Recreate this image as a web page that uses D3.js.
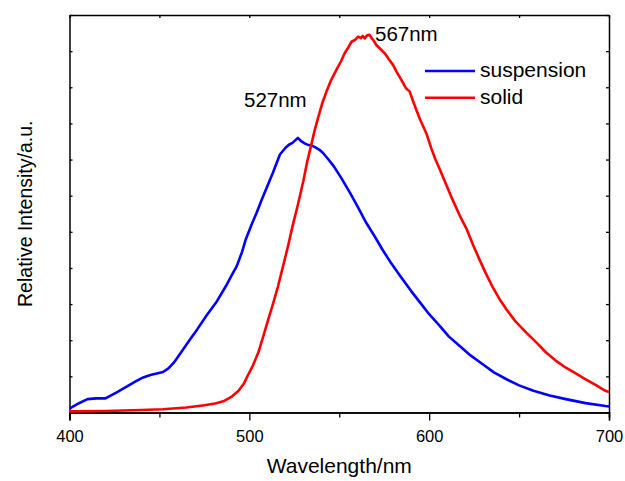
<!DOCTYPE html>
<html><head><meta charset="utf-8">
<script src="https://cdn.jsdelivr.net/npm/d3@7"></script>
<style>
html,body{margin:0;padding:0;background:#fff;}
text{font-family:"Liberation Sans",Arial,sans-serif;fill:#000;}
</style></head>
<body><svg id="chart" width="625" height="481"></svg>
<script>
const xTickLabels = [400, 500, 600, 700];
const xMinorTicks = [450, 550, 650];
const yTicks = [0,1,2,3,4,5,6,7,8,9,10,11];
const seriesNames = ["suspension", "solid"];
const seriesColors = ["#0000ff", "#ff0000"];
const peakLabels = ["527nm", "567nm"];

const suspensionWavelength = [400,405,410,415,420,426,432,437,441,445,452,455,458,462,467,471,476,482,487,490,493,496,498,501,504,507,510,513,517,520,522,524,527,529,531,533,535,537,539,541,544,547,551,556,560,565,570,574,579,584,590,595,600,606,611,617,623,630,636,643,650,658,667,676,687,698,700];
const suspensionIntensity = [0.11,0.25,0.37,0.39,0.39,0.55,0.72,0.87,0.97,1.04,1.12,1.22,1.38,1.66,2.02,2.30,2.67,3.08,3.50,3.78,4.05,4.45,4.79,5.17,5.52,5.90,6.26,6.62,7.14,7.32,7.41,7.46,7.60,7.50,7.44,7.40,7.38,7.33,7.27,7.18,7.00,6.81,6.50,6.08,5.72,5.25,4.85,4.51,4.12,3.77,3.36,3.04,2.72,2.39,2.10,1.84,1.58,1.33,1.11,0.92,0.75,0.60,0.47,0.37,0.26,0.18,0.17];

const solidWavelength = [400,420,440,452,465,475,481,486,490,494,497,499,502,505,508,510,513,516,519,521.5,524,527,530,532,534.5,536.4,538.2,540.5,542.9,545.5,548.4,551,553,555,556.8,558.5,560.5,562,563,564.2,565.5,566.9,568,569,570.6,572.5,575.3,577.5,579.9,582,584.6,587,589.2,591,592.9,595,598.4,601.2,603.5,606,609.5,613,617,621,624.5,628,631.5,635,639,643,648,654,660,665,670,676,681.5,687,693,698,700];
const solidIntensity = [0.03,0.04,0.07,0.09,0.14,0.20,0.25,0.32,0.43,0.60,0.80,1.01,1.30,1.66,2.15,2.49,2.98,3.50,4.10,4.60,5.15,5.75,6.40,6.90,7.42,7.82,8.15,8.55,8.88,9.20,9.48,9.72,9.94,10.10,10.26,10.30,10.40,10.36,10.42,10.35,10.44,10.45,10.36,10.30,10.17,10.08,9.94,9.78,9.62,9.42,9.20,8.98,8.88,8.62,8.37,8.10,7.73,7.31,7.00,6.72,6.30,5.89,5.45,5.06,4.63,4.23,3.85,3.50,3.15,2.85,2.52,2.21,1.92,1.66,1.45,1.24,1.08,0.92,0.75,0.60,0.57];

const svg = d3.select("#chart");
const L = 69.5, R = 609, T = 15, B = 412.5;
const x = d3.scaleLinear().domain([400, 700]).range([L, R]);
const y = d3.scaleLinear().domain([0, 11]).range([B, T]);

const axisStyle = g => { g.selectAll("path").attr("stroke","#000").attr("stroke-width",1.5); g.selectAll("line").attr("stroke","#000").attr("stroke-width",1.3); };

svg.append("g").attr("transform",`translate(0,${B})`)
  .call(d3.axisBottom(x).tickValues(xTickLabels).tickSize(8).tickPadding(9.5).tickFormat(d3.format("d")))
  .call(axisStyle)
  .call(g => g.selectAll("text").style("font-size","16.5px").style("font-family",'"Liberation Sans",Arial,sans-serif'));
svg.append("g").attr("transform",`translate(0,${B})`)
  .call(d3.axisBottom(x).tickValues(xMinorTicks).tickSize(5).tickFormat(""))
  .call(axisStyle);
svg.append("g").attr("transform",`translate(0,${T})`)
  .call(d3.axisTop(x).tickValues(xTickLabels.concat(xMinorTicks)).tickSizeInner(-3).tickSizeOuter(0).tickFormat(""))
  .call(axisStyle);
svg.append("g").attr("transform",`translate(${L},0)`)
  .call(d3.axisLeft(y).tickValues(yTicks).tickSizeInner(-3).tickSizeOuter(0).tickFormat(""))
  .call(axisStyle);
svg.append("g").attr("transform",`translate(${R},0)`)
  .call(d3.axisRight(y).tickValues(yTicks).tickSizeInner(-3).tickSizeOuter(0).tickFormat(""))
  .call(axisStyle);

const line = d3.line().x(d => x(d[0])).y(d => y(d[1]));
const series = [
  d3.zip(suspensionWavelength, suspensionIntensity),
  d3.zip(solidWavelength, solidIntensity)
];
series.forEach((s, i) => {
  svg.append("path").datum(s).attr("d", line)
    .attr("fill","none").attr("stroke", seriesColors[i]).attr("stroke-width",2.6)
    .attr("stroke-linejoin","round");
});

seriesNames.forEach((n, i) => {
  const ly = 71 + i * 26.7;
  svg.append("line").attr("x1",425).attr("x2",475).attr("y1",ly).attr("y2",ly)
    .attr("stroke",seriesColors[i]).attr("stroke-width",2.6);
  svg.append("text").attr("x",480).attr("y",ly+6).style("font-size","21px").text(n);
});

svg.append("text").attr("x",244).attr("y",106.7).style("font-size","20.5px").text(peakLabels[0]);
svg.append("text").attr("x",375).attr("y",40.7).style("font-size","20.5px").text(peakLabels[1]);

svg.append("text").attr("x",(L+R)/2).attr("y",473).attr("text-anchor","middle").style("font-size","21px").text("Wavelength/nm");
svg.append("text").attr("transform",`translate(32,${(T+B)/2}) rotate(-90)`).attr("text-anchor","middle").style("font-size","19.5px").text("Relative Intensity/a.u.");
</script></body></html>
